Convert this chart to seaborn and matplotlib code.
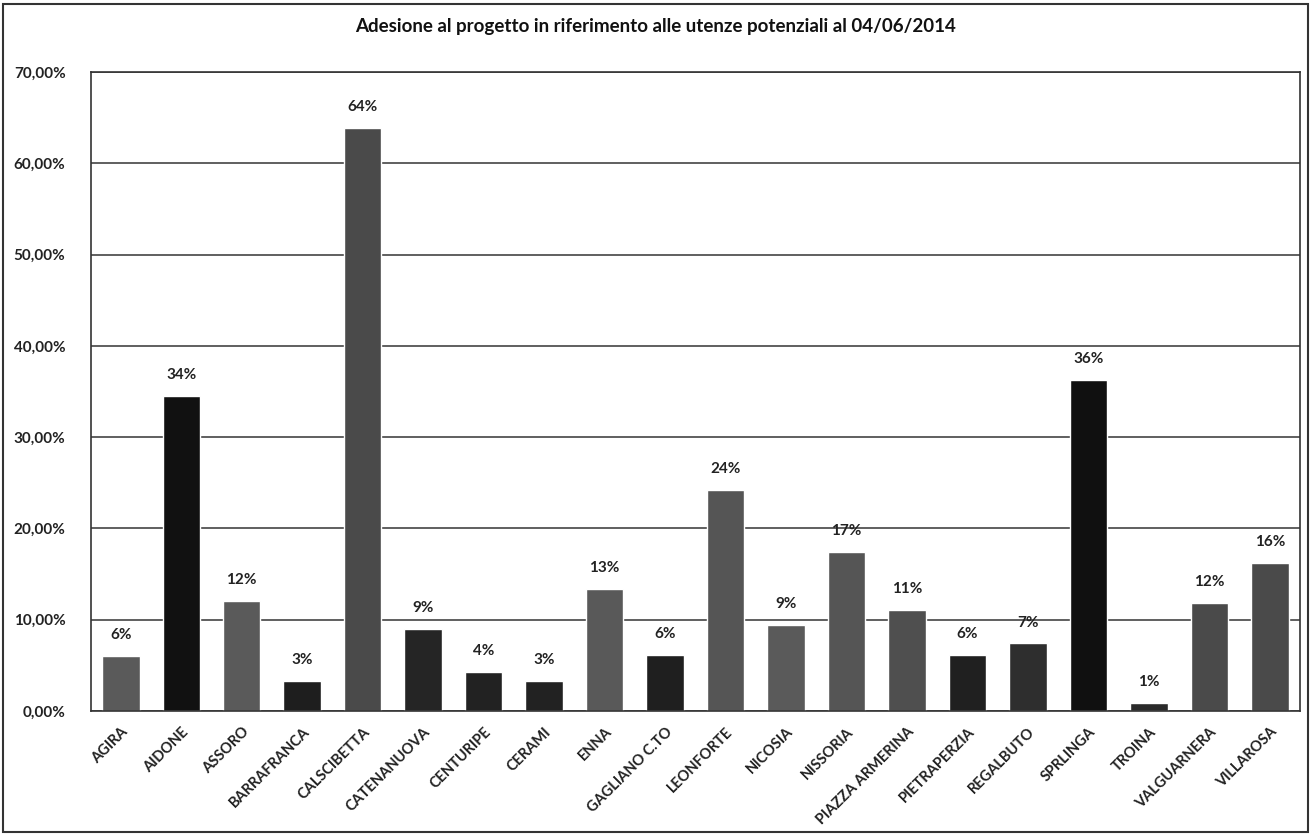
import matplotlib
matplotlib.use("Agg")
import numpy as np
import pandas as pd
import seaborn as sns
from matplotlib import pyplot as plt
from matplotlib.patches import Rectangle
from matplotlib.ticker import FuncFormatter, MultipleLocator

comuni = [
    "AGIRA", "AIDONE", "ASSORO", "BARRAFRANCA", "CALSCIBETTA", "CATENANUOVA",
    "CENTURIPE", "CERAMI", "ENNA", "GAGLIANO C.TO", "LEONFORTE", "NICOSIA",
    "NISSORIA", "PIAZZA ARMERINA", "PIETRAPERZIA", "REGALBUTO", "SPRLINGA",
    "TROINA", "VALGUARNERA", "VILLAROSA",
]
adesione = [6.0, 34.5, 12.1, 3.3, 63.9, 9.0, 4.3, 3.3, 13.4, 6.1,
            24.2, 9.4, 17.4, 11.1, 6.1, 7.4, 36.3, 0.9, 11.8, 16.2]
colori = ["#5a5a5a", "#111111", "#5a5a5a", "#1e1e1e", "#4a4a4a", "#252525",
          "#222222", "#222222", "#595959", "#1f1f1f", "#555555", "#5a5a5a",
          "#555555", "#4f4f4f", "#202020", "#2e2e2e", "#101010", "#2a2a2a",
          "#4a4a4a", "#4a4a4a"]
titolo = "Adesione al progetto in riferimento alle utenze potenziali al 04/06/2014"

df = pd.DataFrame({"comune": comuni, "adesione": adesione})

sns.set_theme(style="white")
plt.rcParams["font.family"] = ["Lato", "DejaVu Sans"]

fig = plt.figure(figsize=(13.12, 8.36), dpi=100)
fig.patch.set_facecolor("white")
ax = fig.add_axes([0.069, 0.1495, 0.922, 0.7645])

sns.barplot(data=df, x="comune", y="adesione", hue="comune",
            palette=dict(zip(comuni, colori)), legend=False,
            width=0.62, saturation=1, ax=ax)

for c in ax.containers:
    ax.bar_label(c, labels=[f"{v:.0f}%" for v in c.datavalues],
                 padding=10, fontsize=11, fontweight="bold", color="#222222")

ax.set_ylim(0, 70)
ax.set_xlim(-0.5, len(comuni) - 0.5)
ax.yaxis.set_major_locator(MultipleLocator(10))
ax.yaxis.set_major_formatter(FuncFormatter(lambda v, p: f"{v:.2f}%".replace(".", ",")))
ax.grid(axis="y", color="#444444", linewidth=1.2)
ax.set_axisbelow(True)
for s in ax.spines.values():
    s.set_color("#333333")
    s.set_linewidth(1.2)

ax.set_xlabel("")
ax.set_ylabel("")
ax.tick_params(axis="y", labelsize=11, pad=12, colors="#222222")
ax.tick_params(axis="x", labelsize=10.5, pad=4, colors="#222222")
plt.setp(ax.get_yticklabels(), fontweight="bold")
plt.setp(ax.get_xticklabels(), rotation=45, ha="right", rotation_mode="anchor",
         fontweight="bold")

fig.text(0.5, 0.968, titolo, ha="center", va="center", fontsize=13.5,
         fontweight="bold", color="#111111")

fig.add_artist(Rectangle((0.002, 0.005), 0.995, 0.99, transform=fig.transFigure,
                         fill=False, edgecolor="#333333", linewidth=1.5))

fig.savefig("out.png", dpi=100, facecolor="white")
